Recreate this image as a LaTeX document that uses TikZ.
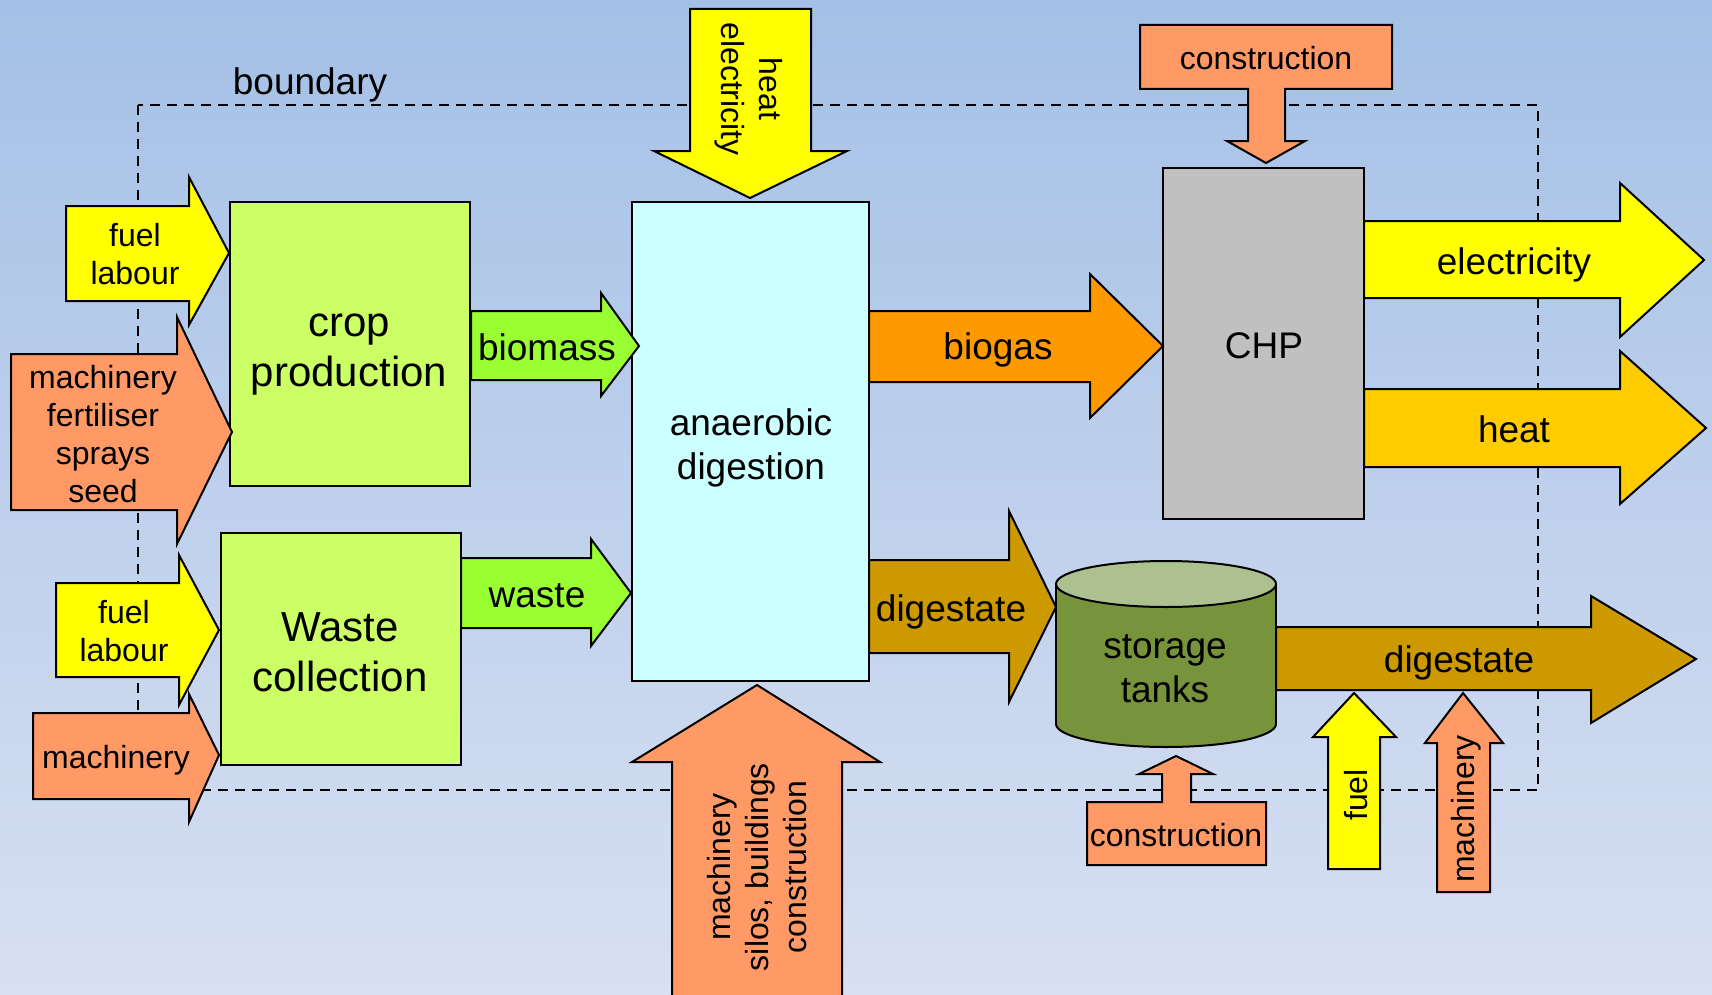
\documentclass[tikz,border=0pt]{standalone}
\usepackage{fontspec}
\setmainfont{Liberation Sans}

\definecolor{bgtop}{RGB}{164,192,230}
\definecolor{bgbot}{RGB}{216,224,242}
\definecolor{inyellow}{RGB}{255,255,0}
\definecolor{insalmon}{RGB}{255,153,102}
\definecolor{boxgreen}{RGB}{204,255,102}
\definecolor{flowgreen}{RGB}{153,255,51}
\definecolor{digester}{RGB}{204,255,255}
\definecolor{biogasorange}{RGB}{255,153,0}
\definecolor{chpgrey}{RGB}{192,192,192}
\definecolor{heatgold}{RGB}{255,204,0}
\definecolor{digestbrown}{RGB}{204,153,0}
\definecolor{tankside}{RGB}{119,147,60}
\definecolor{tanktop}{RGB}{173,192,143}

% horizontal block arrow pointing right:
% #1 fill, #2 tail x, #3/#4 body top/bottom y, #5 head base x,
% #6/#7 head top/bottom y, #8/#9 tip
\newcommand{\blockright}[9]{%
  \draw[shp,fill=#1] (#2,#3) -- (#5,#3) -- (#5,#6) -- (#8,#9) -- (#5,#7)
    -- (#5,#4) -- (#2,#4) -- cycle;}
% vertical block arrow (up or down):
% #1 fill, #2/#3 body left/right x, #4 tail y, #5 head base y,
% #6/#7 head left/right x, #8/#9 tip
\newcommand{\blockvert}[9]{%
  \draw[shp,fill=#1] (#2,#4) -- (#2,#5) -- (#6,#5) -- (#8,#9) -- (#7,#5)
    -- (#3,#5) -- (#3,#4) -- cycle;}

\begin{document}
\begin{tikzpicture}[x=0.5pt,y=-0.5pt,
  shp/.style={draw=black,line width=1pt,line join=miter},
  lblS/.style={font=\fontsize{16}{19}\selectfont,align=center,inner sep=0pt},
  lblM/.style={font=\fontsize{18.5}{22}\selectfont,align=center,inner sep=0pt},
  lblL/.style={font=\fontsize{21}{25}\selectfont,align=center,inner sep=0pt},
  boundaryline/.style={draw=black,line width=0.8pt,dash pattern=on 5pt off 3.5pt}]

  % background
  \useasboundingbox (0,0) rectangle (1712,995);
  \shade[top color=bgtop,bottom color=bgbot] (0,0) rectangle (1712,995);

  % system boundary
  \draw[boundaryline] (138,105) rectangle (1538,790);
  \node[lblM] (boundary) at (310,85) {boundary};

  % process boxes
  \draw[shp,fill=boxgreen] (230,202) rectangle (470,486);
  \node[lblL] (crop) at (349,355) {crop\\production};
  \draw[shp,fill=boxgreen] (221,533) rectangle (461,765);
  \node[lblL] (wastecoll) at (340,652) {Waste\\collection};
  \draw[shp,fill=digester] (632,202) rectangle (869,681);
  \node[lblM] (ad) at (751,448) {anaerobic\\digestion};
  \draw[shp,fill=chpgrey] (1163,168) rectangle (1364,519);
  \node[lblM] (chp) at (1264,346) {CHP};

  % storage tank cylinder
  \draw[shp,fill=tankside] (1166,724) ellipse [x radius=55pt,y radius=11.5pt];
  \fill[tankside] (1056,584) rectangle (1276,724);
  \draw[shp] (1056,584) -- (1056,724) (1276,584) -- (1276,724);
  \draw[shp,fill=tanktop] (1166,584) ellipse [x radius=55pt,y radius=11.5pt];
  \node[lblM] (tank) at (1165,669) {storage\\tanks};

  % inputs to crop production
  \blockright{inyellow}{66}{206}{301}{189}{177}{325}{229}{253}
  \node[lblS] (fuel1) at (135,254) {fuel\\labour};
  \blockright{insalmon}{11}{354}{510}{177}{317}{544}{232}{432}
  \node[lblS] (mach1) at (103,434) {machinery\\fertiliser\\sprays\\seed};

  % inputs to waste collection
  \blockright{inyellow}{56}{583}{677}{179}{555}{705}{219}{630}
  \node[lblS] (fuel2) at (124,631) {fuel\\labour};
  \blockright{insalmon}{33}{713}{799}{189}{694}{822}{219}{755}
  \node[lblS] (mach2) at (116,760) {machinery};

  % feedstock flows
  \blockright{flowgreen}{471}{311}{380}{601}{293}{396}{639}{346}
  \node[lblM] (biomass) at (547,347) {biomass};
  \blockright{flowgreen}{461}{558}{628}{591}{539}{646}{631}{593}
  \node[lblM] (waste) at (537,596) {waste};

  % digester outputs
  \blockright{biogasorange}{869}{311}{382}{1090}{274}{418}{1163}{346}
  \node[lblM] (biogas) at (998,350) {biogas};
  \blockright{digestbrown}{869}{560}{653}{1009}{511}{702}{1056}{607}
  \node[lblM] (dig1) at (951,612) {digestate};

  % CHP outputs
  \blockright{inyellow}{1364}{221}{298}{1620}{183}{337}{1704}{260}
  \node[lblM] (elec) at (1514,265) {electricity};
  \blockright{heatgold}{1364}{389}{467}{1620}{351}{504}{1706}{428}
  \node[lblM] (heat) at (1514,429) {heat};

  % digestate leaving storage
  \blockright{digestbrown}{1276}{627}{690}{1591}{596}{723}{1696}{659}
  \node[lblM] (dig2) at (1459,663) {digestate};

  % energy input to the digester
  \blockvert{inyellow}{690}{811}{9}{151}{654}{847}{750}{198}
  \node[lblS,rotate=-90] (adenergy) at (749,89) {heat\\electricity};

  % infrastructure input to the digester
  \blockvert{insalmon}{672}{842}{1000}{762}{632}{880}{757}{685}
  \node[lblS,rotate=90] (adinfra) at (757,867) {machinery\\silos, buildings\\construction};

  % construction of the CHP unit
  \draw[shp,fill=insalmon] (1140,25) -- (1392,25) -- (1392,89) -- (1285,89)
    -- (1285,141) -- (1305,141) -- (1266,163) -- (1227,141) -- (1248,141)
    -- (1248,89) -- (1140,89) -- cycle;
  \node[lblS] (chpcons) at (1266,58) {construction};

  % construction of the storage tanks
  \draw[shp,fill=insalmon] (1087,865) -- (1087,802) -- (1162,802)
    -- (1162,774) -- (1139,774) -- (1176,756) -- (1213,774) -- (1191,774)
    -- (1191,802) -- (1266,802) -- (1266,865) -- cycle;
  \node[lblS] (tankcons) at (1176,835) {construction};

  % inputs to digestate spreading
  \blockvert{inyellow}{1328}{1380}{869}{737}{1313}{1396}{1354}{693}
  \node[lblS,rotate=90] (fuel3) at (1356,795) {fuel};
  \blockvert{insalmon}{1437}{1490}{892}{743}{1425}{1503}{1463}{693}
  \node[lblS,rotate=90] (mach3) at (1466,809) {machinery};
\end{tikzpicture}
\end{document}
